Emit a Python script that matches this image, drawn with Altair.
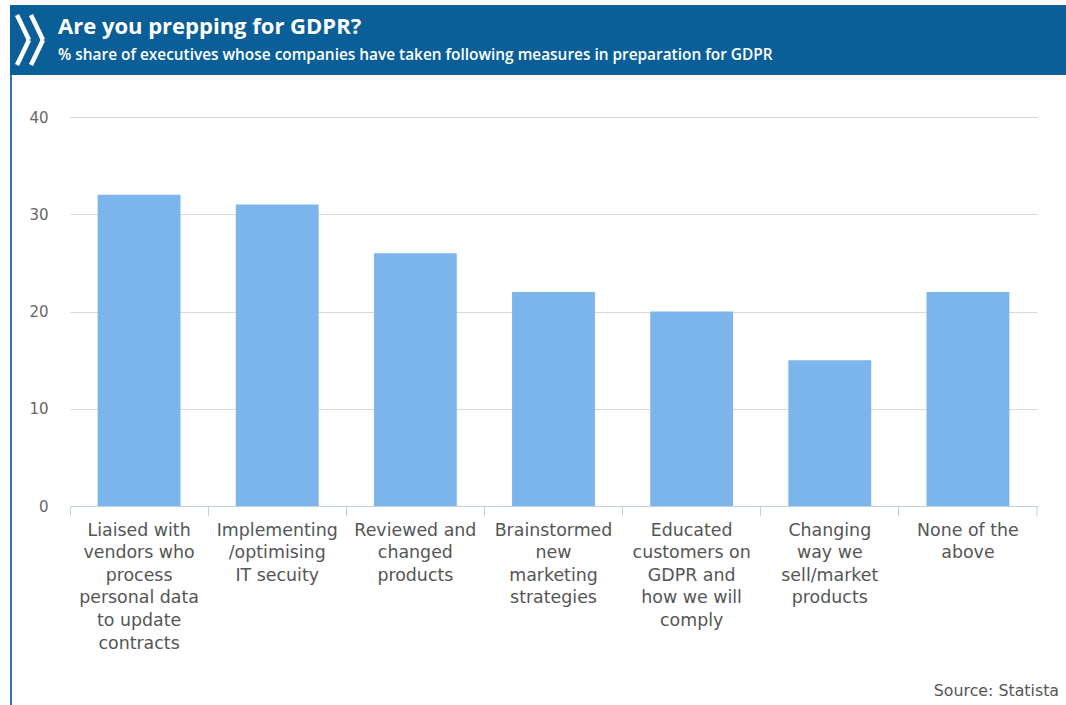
import altair as alt
import pandas as pd

categories = [
    "Liaised with|vendors who|process|personal data|to update|contracts",
    "Implementing|/optimising|IT secuity",
    "Reviewed and|changed|products",
    "Brainstormed|new|marketing|strategies",
    "Educated|customers on|GDPR and|how we will|comply",
    "Changing|way we|sell/market|products",
    "None of the|above",
]
values = [32, 31, 26, 22, 20, 15, 22]
y_ticks = [0, 10, 20, 30, 40]

title_text = "Are you prepping for GDPR?"
subtitle_text = "% share of executives whose companies have taken following measures in preparation for GDPR"
source_text = "Source: Statista"

W, H = 967, 389
LEFT, TOP = 70, 117

df = pd.DataFrame({"category": categories, "value": values})
one = pd.DataFrame({"a": [0]})

bars = alt.Chart(df).mark_bar(color="#7cb5ec").encode(
    x=alt.X(
        "category:N",
        sort=categories,
        scale=alt.Scale(paddingInner=0.4, paddingOuter=0.2),
        axis=alt.Axis(
            title=None,
            labelAngle=0,
            labelExpr="split(datum.label, '|')",
            labelFont="DejaVu Sans",
            labelFontSize=17.4,
            labelColor="#555555",
            labelLineHeight=22.6,
            labelPadding=5,
            labelLimit=0,
            labelBaseline="top",
            bandPosition=-0.3333,
            domainColor="#C0D0E0",
            tickColor="#C0D0E0",
            tickSize=10,
            grid=False,
        ),
    ),
    y=alt.Y(
        "value:Q",
        scale=alt.Scale(domain=[0, 40]),
        axis=alt.Axis(
            title=None,
            values=y_ticks,
            domain=False,
            ticks=False,
            grid=True,
            gridColor="#D8D8D8",
            labelFont="DejaVu Sans",
            labelFontSize=15,
            labelColor="#666666",
            labelPadding=22,
        ),
    ),
)

last_tick = alt.Chart(one).mark_rule(color="#C0D0E0").encode(
    x=alt.value(W), y=alt.value(H), y2=alt.value(H + 10)
)

header = alt.Chart(one).mark_rect(color="#0A5F98").encode(
    x=alt.value(10 - LEFT), x2=alt.value(1066 - LEFT),
    y=alt.value(5 - TOP), y2=alt.value(75 - TOP),
)

left_border = alt.Chart(one).mark_rule(color="#2E78B0", strokeWidth=2).encode(
    x=alt.value(11 - LEFT), y=alt.value(75 - TOP), y2=alt.value(705 - TOP)
)


def seg(x1, y1, x2, y2):
    return alt.Chart(one).mark_rule(color="white", strokeWidth=4.5, strokeCap="butt").encode(
        x=alt.value(x1 - LEFT), y=alt.value(y1 - TOP),
        x2=alt.value(x2 - LEFT), y2=alt.value(y2 - TOP),
    )


chevrons = [
    seg(17, 15, 29, 40), seg(29, 40, 17, 65),
    seg(31, 15, 43, 40), seg(43, 40, 31, 65),
]

title = alt.Chart(one).mark_text(
    text=title_text, font="Open Sans", fontSize=22, fontWeight="bold",
    color="white", align="left", baseline="middle",
).encode(x=alt.value(58 - LEFT), y=alt.value(27 - TOP))

subtitle = alt.Chart(one).mark_text(
    text=subtitle_text, font="Open Sans", fontSize=15.4, fontWeight=600,
    color="white", align="left", baseline="middle",
).encode(x=alt.value(58 - LEFT), y=alt.value(55 - TOP))

source = alt.Chart(one).mark_text(
    text=source_text, font="DejaVu Sans", fontSize=15.8, color="#555555",
    align="right", baseline="middle",
).encode(x=alt.value(1059 - LEFT), y=alt.value(691 - TOP))

chart = alt.layer(
    header, left_border, bars, last_tick, *chevrons, title, subtitle, source
).properties(
    width=W, height=H,
    autosize=alt.AutoSizeParams(type="none"),
    padding={"left": LEFT, "top": TOP, "right": 1066 - LEFT - W, "bottom": 705 - TOP - H},
    background="white",
).configure_view(stroke=None)

chart.save("out.html", embed_options={"renderer": "svg", "actions": False})
